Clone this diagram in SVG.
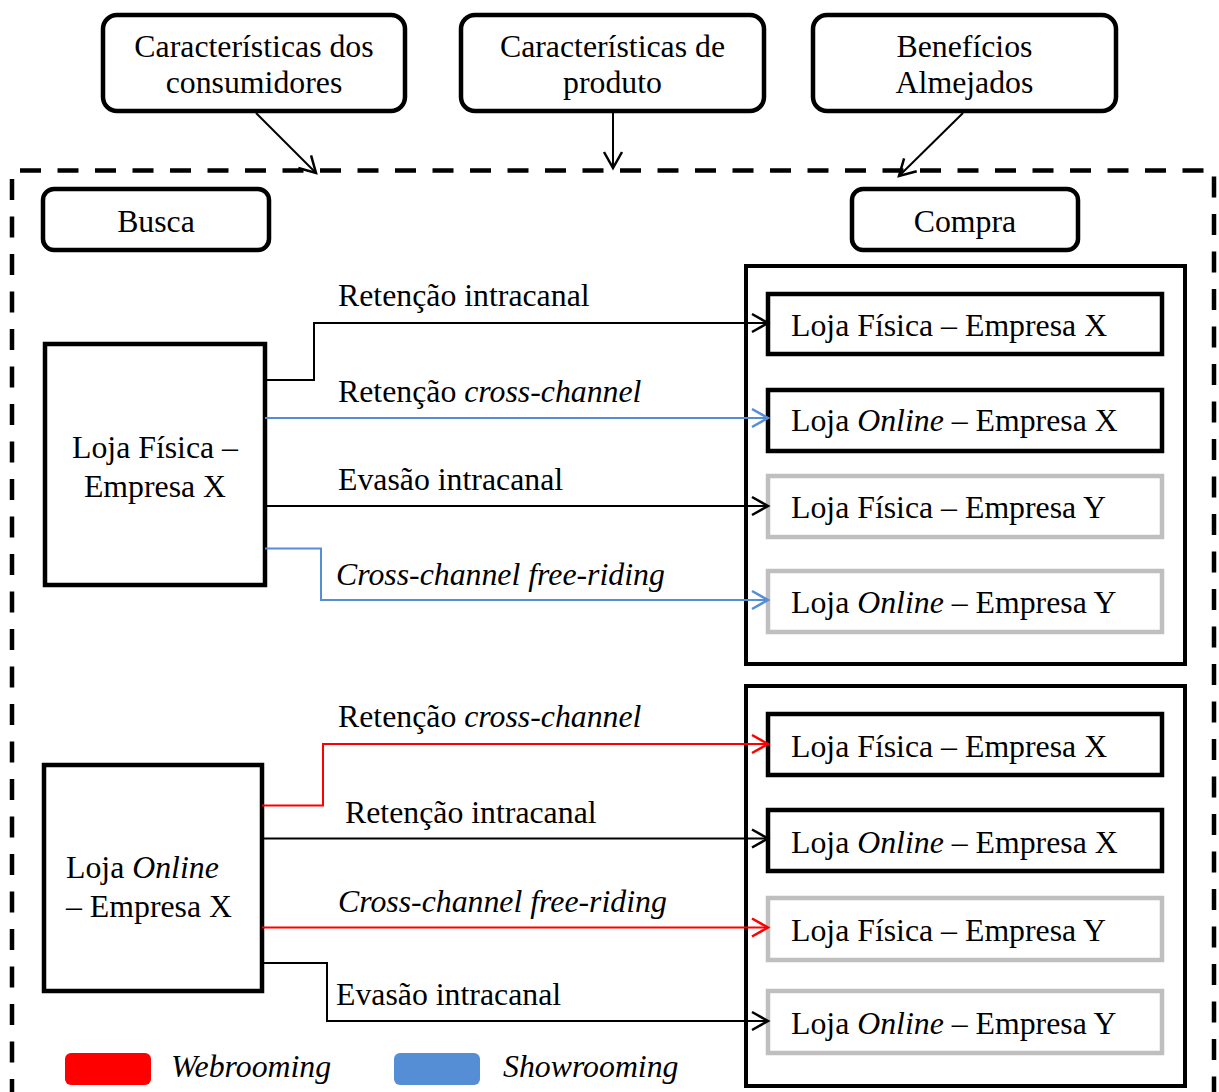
<svg xmlns="http://www.w3.org/2000/svg" width="1219" height="1092" viewBox="0 0 1219 1092">
  <style>
    text { font-family: "Liberation Serif", "Times New Roman", serif; font-size: 31.8px; fill: #000; }
    .c { text-anchor: middle; }
    .i { font-style: italic; }
    .rbox { fill: #fff; stroke: #000; stroke-width: 4.5; }
    .box { fill: #fff; stroke: #000; stroke-width: 4.5; }
    .gbox { fill: #fff; stroke: #bfbfbf; stroke-width: 4.5; }
    .frame { fill: none; stroke: #000; stroke-width: 4; }
    .edge { fill: none; stroke-width: 2; }
    .k { stroke: #000; marker-end: url(#ah-k); }
    .b { stroke: #558ed5; marker-end: url(#ah-b); }
    .r { stroke: #ff0000; marker-end: url(#ah-r); }
  </style>
  <defs>
    <marker id="ah-k" markerUnits="userSpaceOnUse" orient="auto" markerWidth="1" markerHeight="1" overflow="visible">
      <path d="M-16,-9 L0,0 L-16,9" fill="none" stroke="#000" stroke-width="2.5"/>
    </marker>
    <marker id="ah-b" markerUnits="userSpaceOnUse" orient="auto" markerWidth="1" markerHeight="1" overflow="visible">
      <path d="M-16,-9 L0,0 L-16,9" fill="none" stroke="#558ed5" stroke-width="2.5"/>
    </marker>
    <marker id="ah-r" markerUnits="userSpaceOnUse" orient="auto" markerWidth="1" markerHeight="1" overflow="visible">
      <path d="M-16,-9 L0,0 L-16,9" fill="none" stroke="#ff0000" stroke-width="2.5"/>
    </marker>
  </defs>

  <!-- dashed boundary of the decision process -->
  <path d="M12,1100 L12,170.5 L1214,170.5 L1214,1100" fill="none" stroke="#000" stroke-width="4.5" stroke-dasharray="21 16.5"/>

  <!-- influencing factors -->
  <g id="caracteristicas-consumidores">
    <rect class="rbox" x="103" y="15" width="302" height="96" rx="14"/>
    <text class="c" x="254" y="56.5">Características dos</text>
    <text class="c" x="254" y="93">consumidores</text>
  </g>
  <g id="caracteristicas-produto">
    <rect class="rbox" x="461" y="15" width="303" height="96" rx="14"/>
    <text class="c" x="612.5" y="56.5">Características de</text>
    <text class="c" x="612.5" y="93">produto</text>
  </g>
  <g id="beneficios">
    <rect class="rbox" x="813" y="15" width="303" height="96" rx="14"/>
    <text class="c" x="964.5" y="56.5">Benefícios</text>
    <text class="c" x="964.5" y="93">Almejados</text>
  </g>

  <!-- stage headers -->
  <g id="busca">
    <rect class="rbox" x="43" y="189" width="226" height="61" rx="11"/>
    <text class="c" x="156" y="232">Busca</text>
  </g>
  <g id="compra">
    <rect class="rbox" x="852" y="189" width="226" height="61" rx="11"/>
    <text class="c" x="965" y="232">Compra</text>
  </g>

  <!-- search channels -->
  <g id="busca-loja-fisica-x">
    <rect class="box" x="45" y="344" width="220" height="241"/>
    <text class="c" x="155" y="458">Loja Física –</text>
    <text class="c" x="155" y="497">Empresa X</text>
  </g>
  <g id="busca-loja-online-x">
    <rect class="box" x="44" y="765" width="218" height="226"/>
    <text x="66" y="878">Loja <tspan class="i">Online</tspan></text>
    <text x="66" y="917">– Empresa X</text>
  </g>

  <!-- purchase channels, upper group -->
  <g id="compra-grupo-1">
    <rect class="frame" x="746" y="266" width="439" height="398"/>
  </g>
  <g id="compra-1-fisica-x">
    <rect class="box" x="768" y="294" width="394" height="60"/>
    <text x="791" y="336">Loja Física – Empresa X</text>
  </g>
  <g id="compra-1-online-x">
    <rect class="box" x="768" y="390" width="394" height="61"/>
    <text x="791" y="431">Loja <tspan class="i">Online</tspan> – Empresa X</text>
  </g>
  <g id="compra-1-fisica-y">
    <rect class="gbox" x="768" y="476" width="394" height="61"/>
    <text x="791" y="518">Loja Física – Empresa Y</text>
  </g>
  <g id="compra-1-online-y">
    <rect class="gbox" x="768" y="571" width="394" height="61"/>
    <text x="791" y="613">Loja <tspan class="i">Online</tspan> – Empresa Y</text>
  </g>

  <!-- purchase channels, lower group -->
  <g id="compra-grupo-2">
    <rect class="frame" x="746" y="686" width="439" height="400"/>
  </g>
  <g id="compra-2-fisica-x">
    <rect class="box" x="768" y="714" width="394" height="61"/>
    <text x="791" y="757">Loja Física – Empresa X</text>
  </g>
  <g id="compra-2-online-x">
    <rect class="box" x="768" y="810" width="394" height="61"/>
    <text x="791" y="853">Loja <tspan class="i">Online</tspan> – Empresa X</text>
  </g>
  <g id="compra-2-fisica-y">
    <rect class="gbox" x="768" y="898" width="394" height="62"/>
    <text x="791" y="941">Loja Física – Empresa Y</text>
  </g>
  <g id="compra-2-online-y">
    <rect class="gbox" x="768" y="991" width="394" height="62"/>
    <text x="791" y="1034">Loja <tspan class="i">Online</tspan> – Empresa Y</text>
  </g>

  <!-- connectors -->
  <g id="connectors">
    <path class="edge k" d="M256,113 L316,173"/>
    <path class="edge k" d="M613,112 L613,168"/>
    <path class="edge k" d="M963,113 L899,176"/>

    <path class="edge k" d="M265,380 L314,380 L314,323 L768,323"/>
    <path class="edge b" d="M265,418 L768,418"/>
    <path class="edge k" d="M265,506 L768,506"/>
    <path class="edge b" d="M265,548.5 L321,548.5 L321,600 L768,600"/>

    <path class="edge r" d="M262,805.5 L323,805.5 L323,744 L768,744"/>
    <path class="edge k" d="M262,838.5 L768,838.5"/>
    <path class="edge r" d="M262,927.5 L768,927.5"/>
    <path class="edge k" d="M262,963 L327,963 L327,1021 L768,1021"/>
  </g>

  <!-- connector labels -->
  <g id="labels">
    <text x="338" y="306">Retenção intracanal</text>
    <text x="338" y="402">Retenção <tspan class="i">cross-channel</tspan></text>
    <text x="338" y="490">Evasão intracanal</text>
    <text class="i" x="336" y="585">Cross-channel free-riding</text>
    <text x="338" y="727">Retenção <tspan class="i">cross-channel</tspan></text>
    <text x="345" y="823">Retenção intracanal</text>
    <text class="i" x="338" y="912">Cross-channel free-riding</text>
    <text x="336" y="1005">Evasão intracanal</text>
  </g>

  <!-- legend -->
  <g id="legend">
    <rect x="65" y="1053" width="86" height="32" rx="6" fill="#ff0000"/>
    <text class="i" x="171" y="1077">Webrooming</text>
    <rect x="394" y="1053" width="86" height="32" rx="6" fill="#558ed5"/>
    <text class="i" x="503" y="1077">Showrooming</text>
  </g>
</svg>
